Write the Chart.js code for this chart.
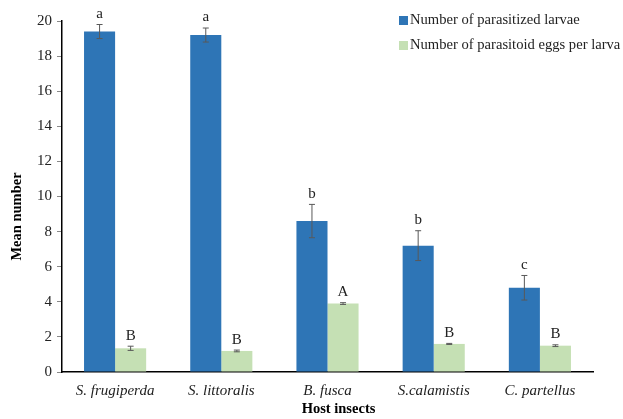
<!DOCTYPE html>
<html>
<head>
<meta charset="utf-8">
<script src="https://cdn.jsdelivr.net/npm/chart.js@4"></script>
<style>
  html, body { margin: 0; padding: 0; background: #fff; }
  #wrap { width: 623px; height: 419px; }
</style>
</head>
<body>
<div id="wrap"><canvas id="myChart"></canvas></div>
<script>
var hosts = ['S. frugiperda', 'S. littoralis', 'B. fusca', 'S.calamistis', 'C. partellus'];
var larvae = [19.4, 19.2, 8.6, 7.2, 4.8];
var larvaeErr = [0.4, 0.4, 0.95, 0.85, 0.7];
var larvaeLetters = ['a', 'a', 'b', 'b', 'c'];
var eggs = [1.35, 1.2, 3.9, 1.6, 1.5];
var eggsErr = [0.12, 0.05, 0.05, 0.03, 0.05];
var eggsLetters = ['B', 'B', 'A', 'B', 'B'];
var yTicks = [0, 2, 4, 6, 8, 10, 12, 14, 16, 18, 20];

var serif = "'Liberation Serif', 'Times New Roman', serif";

// error bars + significance letters
var errorBars = {
    id: 'errorBars',
    afterDatasetsDraw: function(chart) {
        var ctx = chart.ctx;
        var y = chart.scales.y;
        var errs = [larvaeErr, eggsErr];
        var letters = [larvaeLetters, eggsLetters];
        ctx.save();
        chart.data.datasets.forEach(function(ds, di) {
            var meta = chart.getDatasetMeta(di);
            meta.data.forEach(function(bar, i) {
                var v = ds.data[i];
                var top = y.getPixelForValue(v + errs[di][i]);
                var bot = y.getPixelForValue(v - errs[di][i]);
                ctx.strokeStyle = '#595959';
                ctx.lineWidth = 1;
                ctx.beginPath();
                ctx.moveTo(bar.x, top); ctx.lineTo(bar.x, bot);
                ctx.moveTo(bar.x - 3, top); ctx.lineTo(bar.x + 3, top);
                ctx.moveTo(bar.x - 3, bot); ctx.lineTo(bar.x + 3, bot);
                ctx.stroke();
                ctx.fillStyle = '#222';
                ctx.font = '15px ' + serif;
                ctx.textAlign = 'center';
                ctx.textBaseline = 'bottom';
                ctx.fillText(letters[di][i], bar.x, top - 3);
            });
        });
        ctx.restore();
    }
};

// legend inside the plot (top right) and axis titles
var extras = {
    id: 'extras',
    afterDraw: function(chart) {
        var ctx = chart.ctx;
        var area = chart.chartArea;
        ctx.save();
        ctx.font = '14.6px ' + serif;
        ctx.textBaseline = 'middle';
        ctx.textAlign = 'left';
        chart.data.datasets.forEach(function(ds, i) {
            var yy = 20 + i * 25;
            ctx.fillStyle = ds.backgroundColor;
            ctx.fillRect(399, yy - 4, 9, 9);
            ctx.fillStyle = '#222';
            ctx.fillText(ds.label, 410, yy);
        });

        ctx.fillStyle = '#000';
        ctx.font = 'bold 14.5px ' + serif;
        ctx.textAlign = 'center';
        ctx.fillText('Host insects', (area.left + area.right) / 2 + 11, 409);

        ctx.translate(17, (area.top + area.bottom) / 2 + 20);
        ctx.rotate(-Math.PI / 2);
        ctx.fillText('Mean number', 0, 0);
        ctx.restore();
    }
};

var ctx = document.getElementById('myChart').getContext('2d');
var chart = new Chart(ctx, {
    type: 'bar',
    data: {
        labels: hosts,
        datasets: [{
            label: 'Number of parasitized larvae',
            data: larvae,
            backgroundColor: '#2E75B6'
        }, {
            label: 'Number of parasitoid eggs per larva',
            data: eggs,
            backgroundColor: '#C5E0B4'
        }]
    },
    options: {
        responsive: true,
        maintainAspectRatio: false,
        animation: false,
        layout: { padding: { top: 21, right: 30, left: 0, bottom: 0 } },
        plugins: {
            legend: { display: false },
            tooltip: { enabled: false }
        },
        datasets: {
            bar: { barPercentage: 1, categoryPercentage: 0.585 }
        },
        scales: {
            x: {
                grid: { display: false, drawTicks: false },
                border: { color: '#000', width: 1.5 },
                ticks: {
                    color: '#222',
                    padding: 10,
                    font: { family: serif, size: 15, style: 'italic' }
                },
                afterFit: function(scale) { scale.height = 47; }
            },
            y: {
                min: 0,
                max: 20,
                afterBuildTicks: function(scale) {
                    scale.ticks = yTicks.map(function(v) { return { value: v }; });
                },
                grid: {
                    drawOnChartArea: false,
                    drawTicks: true,
                    tickLength: 5,
                    color: '#888'
                },
                border: { color: '#000', width: 1.5 },
                ticks: {
                    color: '#222',
                    padding: 5,
                    font: { family: serif, size: 15 }
                },
                afterFit: function(scale) { scale.width = 62; }
            }
        }
    },
    plugins: [errorBars, extras]
});
</script>
</body>
</html>
